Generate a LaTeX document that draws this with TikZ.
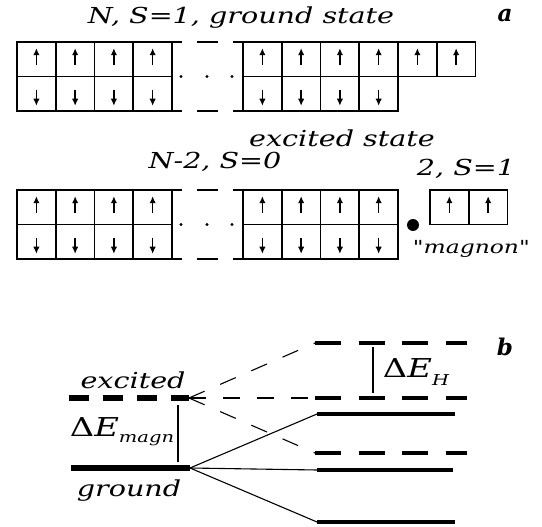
\documentclass[tikz,border=0pt]{standalone}
\usepackage{fontspec}
\setmainfont{DejaVu Serif}
\newfontfamily\labfont{DejaVu Serif Italic}[FakeStretch=1.3]
\newfontfamily\gapfont{DejaVu Serif}[FakeStretch=1.3]
\newfontfamily\gapitfont{DejaVu Serif Italic}[FakeStretch=1.3]
\usetikzlibrary{arrows.meta}

\begin{document}
\begin{tikzpicture}[x=1pt,y=-1pt,
  cell/.style={draw,line width=1.6pt,minimum width=38.75pt,minimum height=34.5pt,inner sep=0pt,outer sep=0pt},
  spin/.style={line width=1.4pt,-{Latex[length=7pt,width=6.5pt]}},
  gridline/.style={line width=1.6pt},
  lab/.style={font=\labfont\fontsize{22}{24}\selectfont,inner sep=0pt},
  panel/.style={font=\fontsize{23}{24}\selectfont\bfseries\itshape,inner sep=0pt},
  gap/.style={font=\gapfont\fontsize{26}{30}\selectfont,inner sep=0pt},
  thinline/.style={line width=1.1pt},
  thindash/.style={line width=1.1pt,dash pattern=on 17pt off 17pt},
  exclevel/.style={line width=6pt,dash pattern=on 20pt off 14pt},
  gndlevel/.style={line width=6pt},
  dashlevel/.style={line width=4pt,dash pattern=on 26pt off 17.5pt},
  sollevel/.style={line width=4pt}]
  \useasboundingbox (0,0) rectangle (542,527);

  % a: ground state
  \node[lab] (gtitle) at (241,18) {N, S=1, ground state};
  \node[panel] (pa) at (505,16) {a};
  \foreach \i in {0,...,3}{
    \node[cell] (gu\i) at ({36.4+38.75*\i},59.25) {};
    \node[cell] (gd\i) at ({36.4+38.75*\i},93.75) {};
    \draw[spin] ([yshift=-6pt]gu\i.center) -- ([yshift=11pt]gu\i.center);
    \draw[spin] ([yshift=4pt]gd\i.center) -- ([yshift=-12pt]gd\i.center);
  }
  \foreach \i in {0,...,5}{
    \node[cell] (hu\i) at ({262.4+38.75*\i},59.25) {};
    \draw[spin] ([yshift=-6pt]hu\i.center) -- ([yshift=11pt]hu\i.center);
  }
  \foreach \i in {0,...,3}{
    \node[cell] (hd\i) at ({262.4+38.75*\i},93.75) {};
    \draw[spin] ([yshift=4pt]hd\i.center) -- ([yshift=-12pt]hd\i.center);
  }
  \draw[gridline] (gu3.north east) -- ++(10,0) ++(15,0) -- ++(21,0) ++(15,0) -- (hu0.north west);
  \draw[gridline] (gd3.south east) -- ++(10,0) ++(15,0) -- ++(21,0) ++(15,0) -- (hd0.south west);
  \foreach \dx in {9,35,60}
    \fill ([xshift=\dx pt]gu3.south east) circle (1.6);

  % excited state
  \node[lab] (etitle) at (342,138) {excited state};
  \node[lab] (elab) at (215,162) {N-2, S=0};
  \node[lab] (mlab) at (466,169) {2, S=1};
  \foreach \i in {0,...,3}{
    \node[cell] (eu\i) at ({36.4+38.75*\i},207.25) {};
    \node[cell] (ed\i) at ({36.4+38.75*\i},241.75) {};
    \node[cell] (fu\i) at ({262.4+38.75*\i},207.25) {};
    \node[cell] (fd\i) at ({262.4+38.75*\i},241.75) {};
    \draw[spin] ([yshift=-6pt]eu\i.center) -- ([yshift=11pt]eu\i.center);
    \draw[spin] ([yshift=4pt]ed\i.center) -- ([yshift=-12pt]ed\i.center);
    \draw[spin] ([yshift=-6pt]fu\i.center) -- ([yshift=11pt]fu\i.center);
    \draw[spin] ([yshift=4pt]fd\i.center) -- ([yshift=-12pt]fd\i.center);
  }
  \draw[gridline] (eu3.north east) -- ++(10,0) ++(15,0) -- ++(21,0) ++(15,0) -- (fu0.north west);
  \draw[gridline] (ed3.south east) -- ++(10,0) ++(15,0) -- ++(21,0) ++(15,0) -- (fd0.south west);
  \foreach \dx in {9,35,60}
    \fill ([xshift=\dx pt]eu3.south east) circle (1.6);
  \fill (413,225) circle (6);
  \foreach \i in {0,1}{
    \node[cell] (mu\i) at ({449.4+38.75*\i},207.25) {};
    \draw[spin] ([yshift=-6pt]mu\i.center) -- ([yshift=11pt]mu\i.center);
  }
  \node[lab,font=\labfont\fontsize{18}{20}\selectfont,anchor=east] (mname) at (530,249) {"magnon"};

  % b: levels
  \coordinate (excL) at (69,398);
  \coordinate (exc) at (189,398);
  \coordinate (gndL) at (71,468);
  \coordinate (gnd) at (190,468);
  \coordinate (r1) at (315,343); \coordinate (r1e) at (467,343);
  \coordinate (r2) at (315,398); \coordinate (r2e) at (467,398);
  \coordinate (r3) at (317,414); \coordinate (r3e) at (455,414);
  \coordinate (r4) at (315,453); \coordinate (r4e) at (467,453);
  \coordinate (r5) at (317,470); \coordinate (r5e) at (453,470);
  \coordinate (r6) at (317,522); \coordinate (r6e) at (455,522);

  \draw[exclevel] (excL) -- (exc);
  \draw[gndlevel] (gndL) -- (gnd);
  \draw[dashlevel] (r1) -- (r1e);
  \draw[dashlevel] (r2) -- (r2e);
  \draw[sollevel] (r3) -- (r3e);
  \draw[dashlevel] (r4) -- (r4e);
  \draw[sollevel] (r5) -- (r5e);
  \draw[sollevel] (r6) -- (r6e);

  \foreach \r in {r1,r2,r4}
    \draw[thindash] (exc) -- (\r);
  \foreach \r in {r3,r5,r6}
    \draw[thinline] (gnd) -- (\r);

  \draw[thinline] ([shift={(-11,7)}]exc) -- ([shift={(-12,-6)}]gnd);
  \draw[thinline] ([shift={(58,4)}]r1) -- ([shift={(58,-5)}]r2);

  \node[lab] (exclab) at (133,380) {excited};
  \node[lab] (gndlab) at (129,491) {ground};
  \node[gap] (dmagn) at (122,432) {Δ{\gapitfont E}\raisebox{-6pt}{\gapitfont\fontsize{15}{15}\selectfont magn}};
  \node[gap] (dh) at (416,372) {Δ{\gapitfont E}\raisebox{-8pt}{\gapitfont\fontsize{15}{15}\selectfont H}};
  \node[panel] (pb) at (505,347) {b};
\end{tikzpicture}
\end{document}
